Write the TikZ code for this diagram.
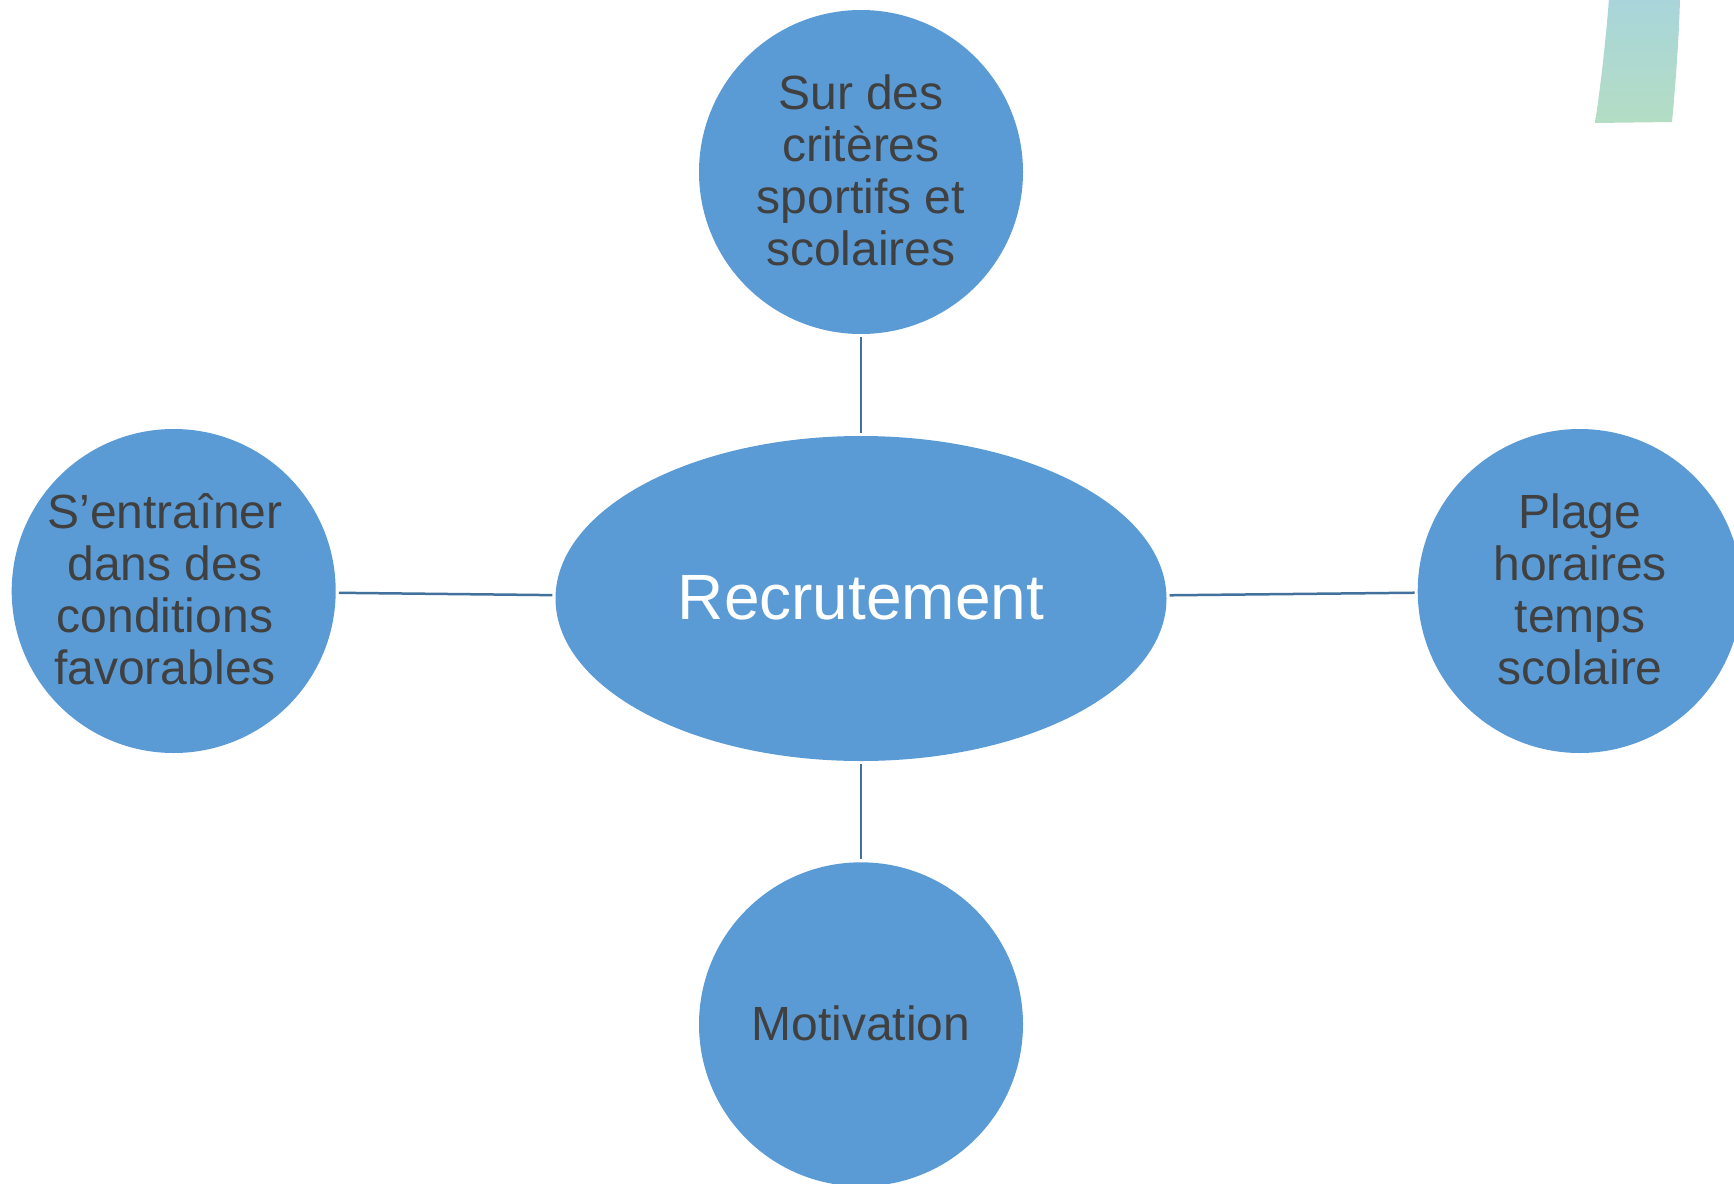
\documentclass[tikz,border=0pt]{standalone}
\usepackage{fontspec}
\setmainfont{Liberation Sans}
\usetikzlibrary{shapes.geometric}
\definecolor{nodefill}{HTML}{5B9BD5}
\definecolor{linecol}{HTML}{41719C}
\definecolor{txtcol}{HTML}{404040}
\definecolor{decotop}{RGB}{168,213,218}
\definecolor{decobot}{RGB}{180,221,196}
\begin{document}
\begin{tikzpicture}[x=1pt,y=-1pt,
  bubble/.style={circle,fill=nodefill,minimum size=324pt,inner sep=0pt},
  hub/.style={ellipse,fill=nodefill,minimum width=611pt,minimum height=325pt,inner sep=0pt},
  btext/.style={text=txtcol,font=\fontsize{48}{52}\selectfont,align=center,inner sep=0pt},
  htext/.style={text=white,font=\fontsize{64}{70}\selectfont,inner sep=0pt},
  link/.style={draw=linecol,line width=2.5pt,shorten <=3pt,shorten >=3pt}]
\useasboundingbox (0,0) rectangle (1734,1183);
\clip (0,0) rectangle (1734,1183);
% decoration top right
\shade[top color=decotop,bottom color=decobot]
  (1609,-2) .. controls (1606,40) and (1600,90) .. (1595,123)
  -- (1672,122) .. controls (1675,90) and (1679,40) .. (1680,-2) -- cycle;
% shapes
\node[hub] (hub) at (861,598.5) {};
\node[bubble] (top) at (861,172) {};
\node[bubble] (left) at (173.7,591) {};
\node[bubble] (right) at (1579.7,591) {};
\node[bubble] (bottom) at (861,1024.3) {};
% connectors
\draw[link] (top) -- (hub);
\draw[link] (left) -- (hub);
\draw[link] (hub) -- (right);
\draw[link] (hub) -- (bottom);
% texts
\node[htext,anchor=base] (thub) at (861,619) {Recrutement};
\node[btext] (ttop) at (861,170.5) {Sur des\\critères\\sportifs et\\scolaires};
\node[btext] (tleft) at (165,588.8) {S’entraîner\\dans des\\conditions\\favorables};
\node[btext] (tright) at (1580,589.8) {Plage\\horaires\\temps\\scolaire};
\node[btext,anchor=base] (tbottom) at (861,1040) {Motivation};
\end{tikzpicture}
\end{document}
